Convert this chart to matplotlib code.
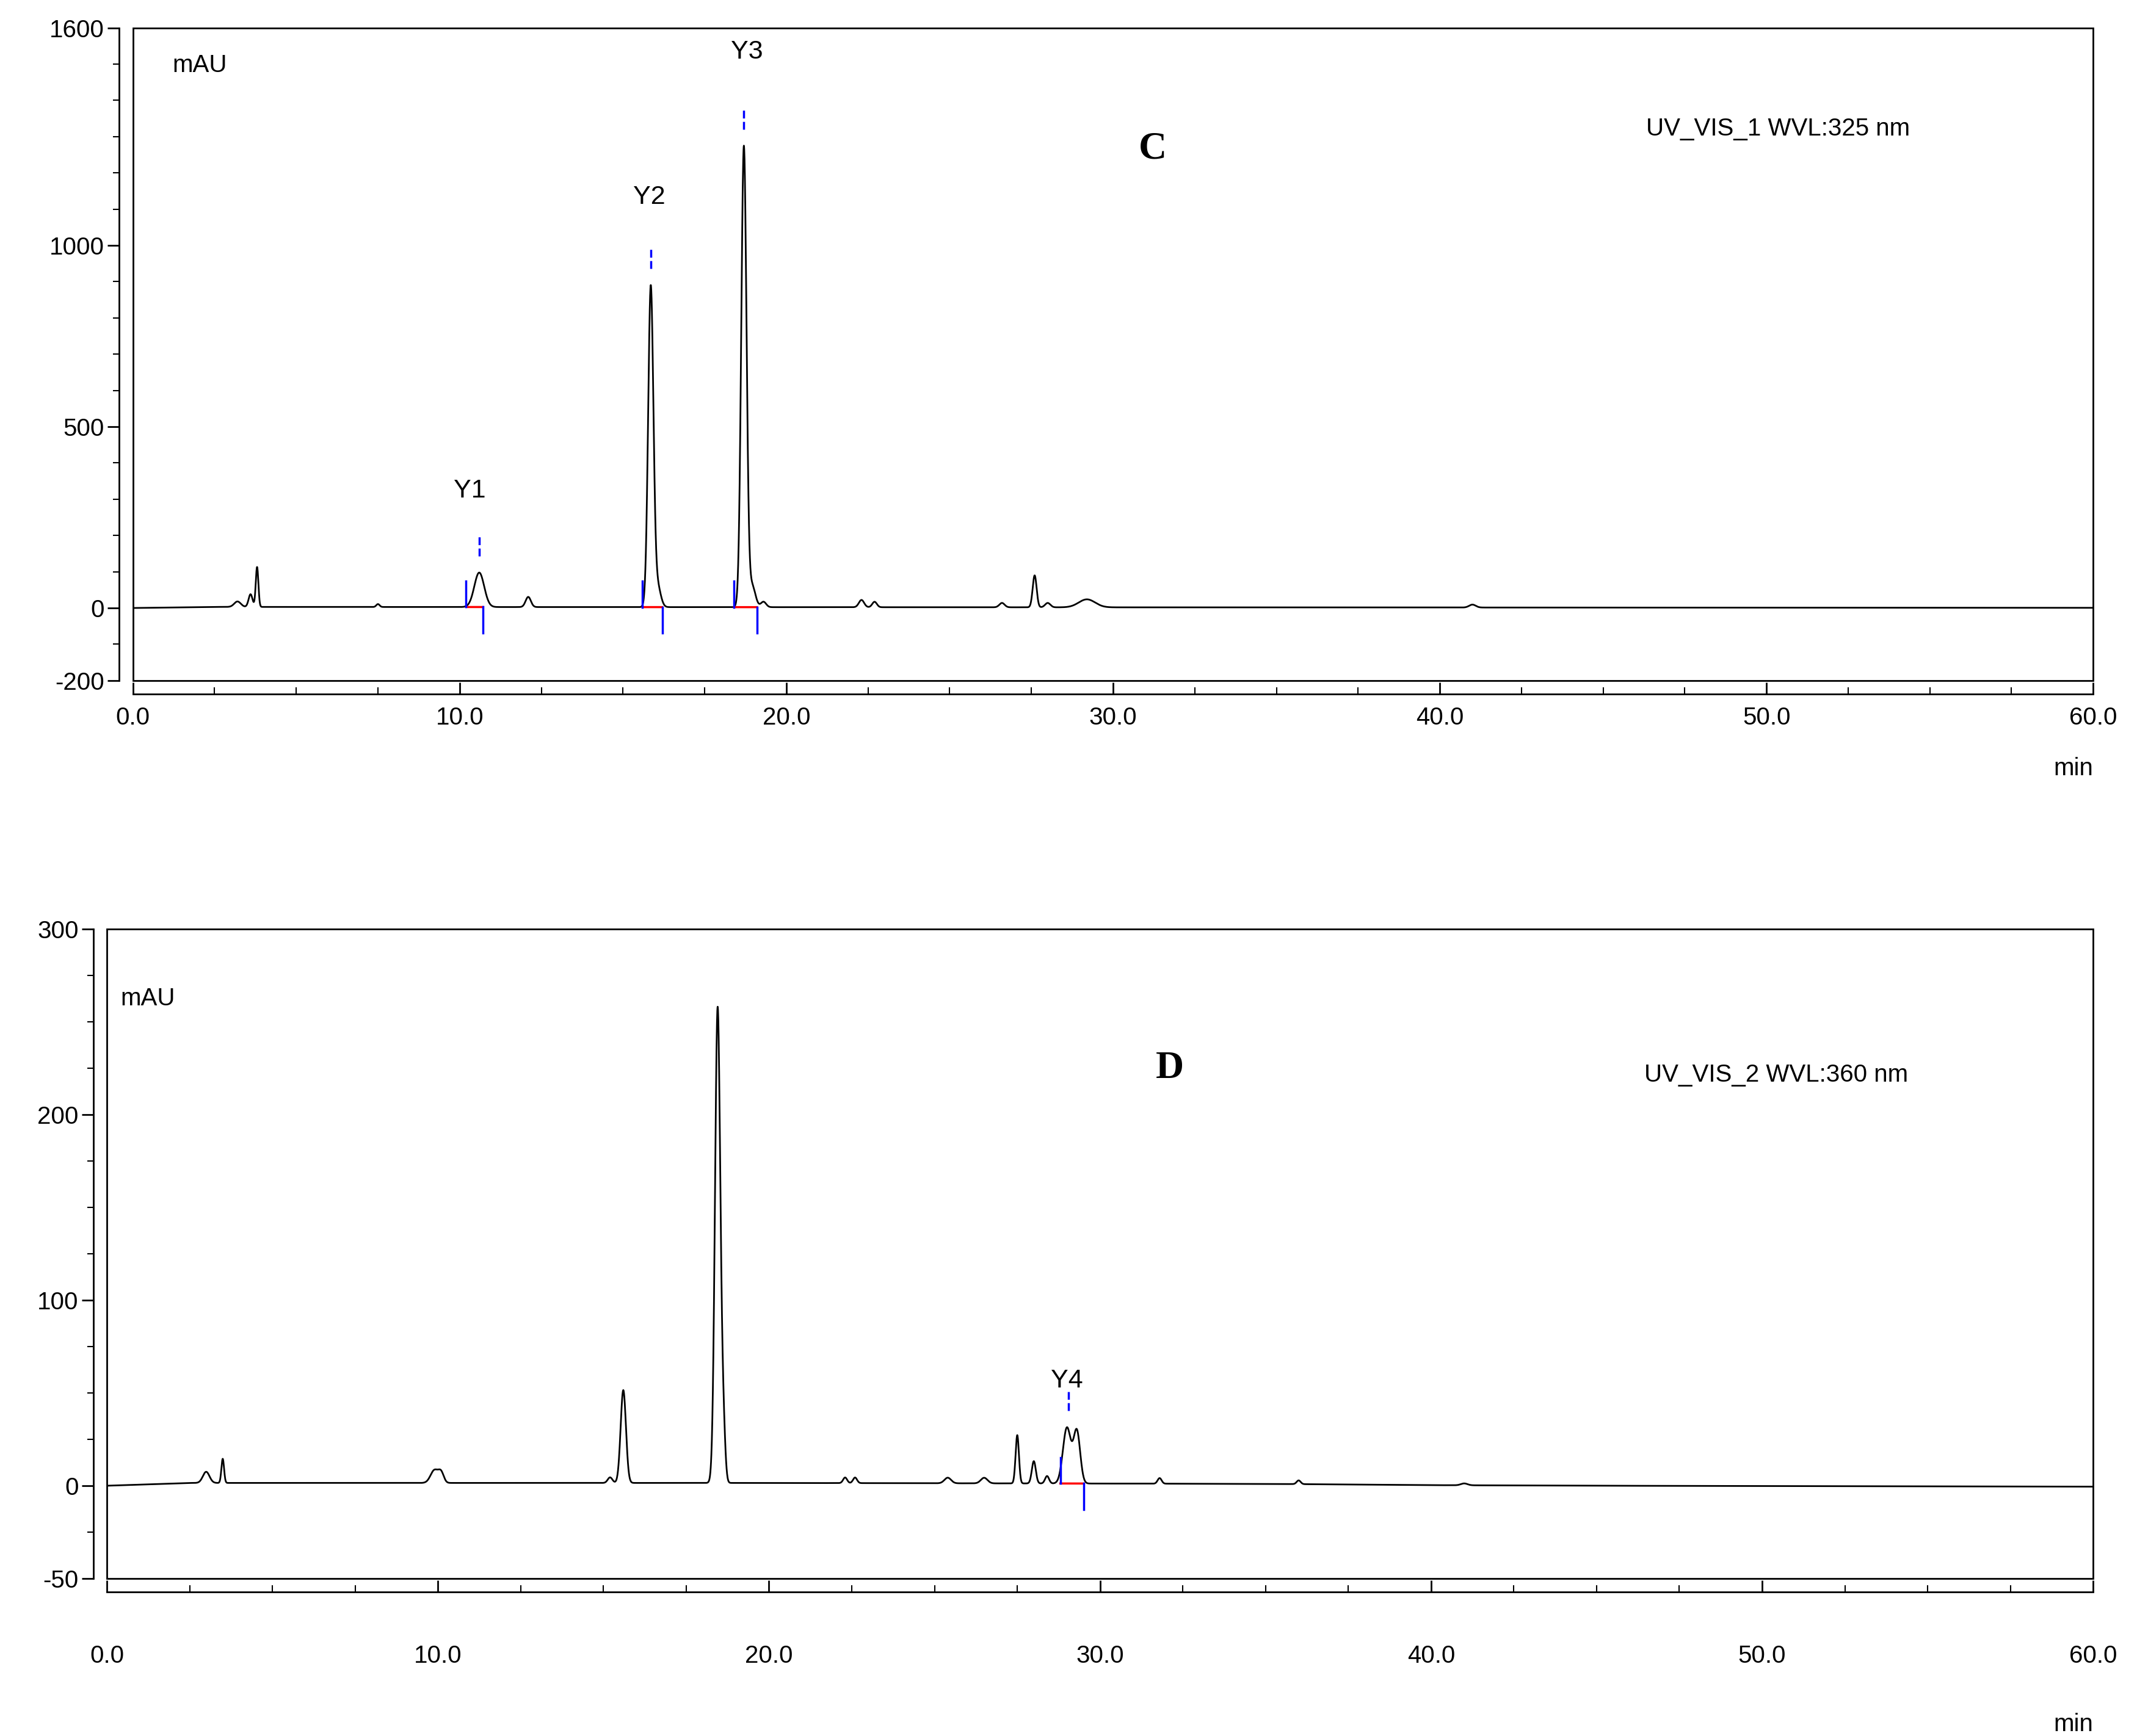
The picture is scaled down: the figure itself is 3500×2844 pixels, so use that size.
import numpy as np
import matplotlib
matplotlib.use("Agg")
import matplotlib.pyplot as plt
from matplotlib.ticker import MultipleLocator, FixedLocator

plt.rcParams['font.family'] = ['Liberation Sans', 'DejaVu Sans']
plt.rcParams['axes.unicode_minus'] = False

# ---- data ----
c_rt = [3.2, 3.6, 3.8, 7.5, 10.6, 12.1, 15.85, 16.05, 18.7, 18.95, 19.3, 22.3, 22.7, 26.6, 27.6, 28.0, 29.2, 41.0]
c_h  = [15, 35, 110, 8, 95, 28, 880, 60, 1270, 60, 15, 20, 15, 12, 88, 12, 22, 8]
c_w  = [0.1, 0.06, 0.04, 0.05, 0.15, 0.08, 0.08, 0.1, 0.08, 0.1, 0.08, 0.08, 0.07, 0.08, 0.06, 0.08, 0.25, 0.1]
c_base = 3
c_marks = [("Y1", 10.2, 10.72, 10.6), ("Y2", 15.6, 16.2, 15.85), ("Y3", 18.4, 19.1, 18.7)]
c_labels = [("Y1", 10.3, 290), ("Y2", 15.8, 1100), ("Y3", 18.8, 1500)]

d_rt = [3.0, 3.5, 9.9, 10.1, 15.2, 15.6, 18.45, 18.62, 22.3, 22.6, 25.4, 26.5, 27.5, 28.0, 28.4, 29.0, 29.3, 31.8, 36.0, 41.0]
d_h  = [6, 13, 7, 5, 3, 50, 256, 28, 3, 3, 3, 3, 26, 12, 4, 30, 28, 3, 2, 1]
d_w  = [0.1, 0.04, 0.12, 0.08, 0.07, 0.08, 0.08, 0.06, 0.06, 0.06, 0.1, 0.1, 0.05, 0.06, 0.06, 0.12, 0.1, 0.06, 0.06, 0.1]
d_base_t = [0, 2.5, 20, 35, 40, 45, 60]
d_base_v = [0, 1.5, 1.5, 1.0, 0.3, 0, -0.5]
d_marks = [("Y4", 28.8, 29.5, 29.05)]
d_labels = [("Y4", 29.0, 50)]

t = np.linspace(0, 60, 12001)

def trace(rt, h, w):
    y = np.zeros_like(t)
    for r, hh, ww in zip(rt, h, w):
        y += hh * np.exp(-0.5 * ((t - r) / ww) ** 2)
    return y

c_bl = np.interp(t, [0, 2.5, 60], [0, c_base, 0.5])
d_bl = np.interp(t, d_base_t, d_base_v)
c_y = trace(c_rt, c_h, c_w) + c_bl
d_y = trace(d_rt, d_h, d_w) + d_bl

fig = plt.figure(figsize=(35, 28.44), dpi=100)
axC = fig.add_axes([0.0622, 0.608, 0.9173, 0.376])
axD = fig.add_axes([0.050, 0.0907, 0.9295, 0.3743])

FS = 29

def style(ax, ylim, yt, yminor, pad, miny):
    ax.set_xlim(0, 60)
    ax.set_ylim(*ylim)
    for s in ['top', 'right']:
        ax.spines[s].set_visible(False)
    for s in ['left', 'bottom']:
        ax.spines[s].set_position(('outward', 16))
        ax.spines[s].set_linewidth(2)
    ax.add_patch(plt.Rectangle((0, 0), 1, 1, transform=ax.transAxes, fill=False, lw=2, ec='black', clip_on=False))
    ax.yaxis.set_major_locator(FixedLocator(yt))
    ax.yaxis.set_minor_locator(MultipleLocator(yminor))
    ax.xaxis.set_major_locator(MultipleLocator(10))
    ax.xaxis.set_minor_locator(MultipleLocator(2.5))
    ax.set_xticklabels([f"{v:.1f}" for v in ax.get_xticks()])
    ax.tick_params(axis='y', which='major', length=14, width=2, labelsize=FS, direction='out')
    ax.tick_params(axis='y', which='minor', length=7, width=1.5)
    ax.tick_params(axis='x', which='major', length=14, width=2, labelsize=FS, direction='in', pad=pad)
    ax.tick_params(axis='x', which='minor', length=8, width=1.5, direction='in')
    ax.text(1.0, miny, "min", transform=ax.transAxes, ha='right', fontsize=FS)

style(axC, (-200, 1600), [-200, 0, 500, 1000, 1600], 100, 14, -0.145)
style(axD, (-50, 300), [-50, 0, 100, 200, 300], 25, 62, -0.235)

def draw(ax, y, bl, marks, labels, scale):
    ax.plot(t, y, color='black', lw=2)
    for name, s, e, a in marks:
        ys = np.interp(s, t, bl); ye = np.interp(e, t, bl)
        ax.plot([s, e], [ys, ye], color='red', lw=2.5)
        ax.plot([s, s], [ys, ys + 0.04 * scale], color='blue', lw=2.5)
        ax.plot([e, e], [ye, ye - 0.04 * scale], color='blue', lw=2.5)
        win = (t > s) & (t < e)
        ya = y[win].max()
        ax.plot([a, a], [ya + 0.025 * scale, ya + 0.055 * scale], color='blue', lw=2.5, ls='--')
    for name, x, yy in labels:
        ax.text(x, yy, name, ha='center', va='bottom', fontsize=FS + 2)

draw(axC, c_y, c_bl, c_marks, c_labels, 1800)
draw(axD, d_y, d_bl, d_marks, d_labels, 350)

axC.text(0.02, 0.96, "mAU", transform=axC.transAxes, fontsize=FS, va='top')
axD.text(0.007, 0.91, "mAU", transform=axD.transAxes, fontsize=FS, va='top')
axC.text(0.772, 0.835, "UV_VIS_1 WVL:325 nm", transform=axC.transAxes, fontsize=FS)
axD.text(0.774, 0.765, "UV_VIS_2 WVL:360 nm", transform=axD.transAxes, fontsize=FS)
axC.text(0.513, 0.80, "C", transform=axC.transAxes, fontsize=46, fontweight='bold', family='Liberation Serif')
axD.text(0.528, 0.77, "D", transform=axD.transAxes, fontsize=46, fontweight='bold', family='Liberation Serif')

fig.savefig("out.png", dpi=100)
